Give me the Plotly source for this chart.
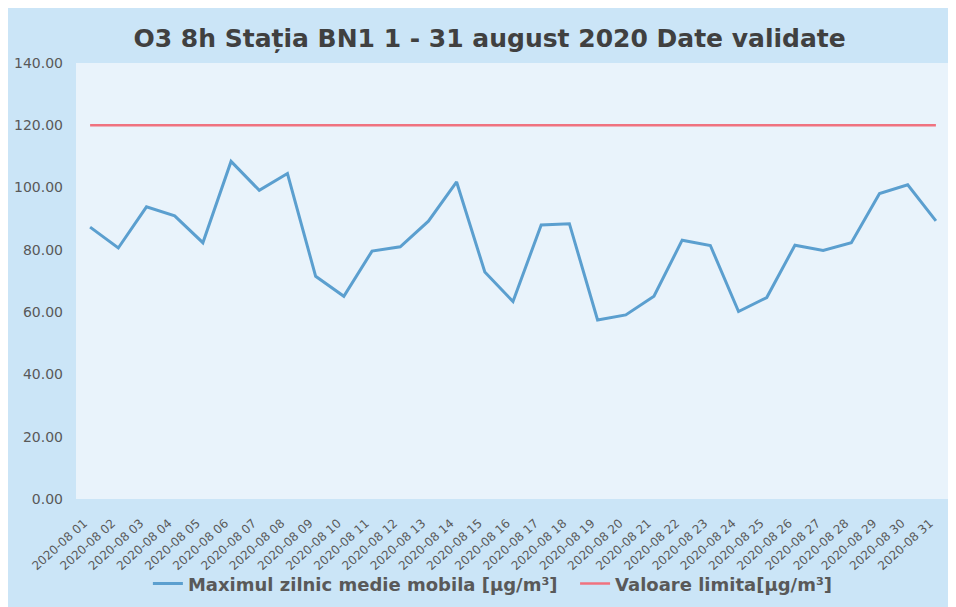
import plotly.graph_objects as go

# date labels and daily values
zile = ["2020-08 %02d" % d for d in range(1, 32)]
maxim_zilnic = [87.3, 80.6, 93.8, 90.9, 82.3, 108.4, 99.1, 104.5, 71.5, 65.1,
                79.6, 81.0, 89.2, 101.8, 72.9, 63.4, 88.0, 88.4, 57.5, 59.1,
                65.1, 83.1, 81.4, 60.2, 64.7, 81.5, 79.8, 82.3, 98.1, 100.9, 89.3]
valoare_limita = [120] * 31

fig = go.Figure()
fig.add_trace(go.Scatter(
    x=zile, y=maxim_zilnic, mode="lines",
    name="Maximul zilnic medie mobila [µg/m³]&nbsp;&nbsp;",
    line=dict(color="#5b9fcf", width=3)
))
fig.add_trace(go.Scatter(
    x=zile, y=valoare_limita, mode="lines",
    name="Valoare limita[µg/m³]",
    line=dict(color="#f0727f", width=2.5)
))

# page body adds 8px around the figure, so size is 948x599
fig.update_layout(
    width=948, height=599,
    margin=dict(l=68, r=6, t=55, b=107),
    paper_bgcolor="#cbe5f7",
    plot_bgcolor="#e9f3fb",
    font=dict(family="DejaVu Sans", color="#595959"),
    title=dict(text="<b>O3 8h Stația BN1 1 - 31 august 2020 Date validate</b>",
               x=0.508, xanchor="center", y=0.95, yanchor="middle",
               font=dict(size=25, color="#404040")),
    xaxis=dict(type="category", range=[-0.5, 30.5], tickangle=-42,
               showgrid=False, showline=False, ticks="",
               ticklabelstandoff=14, ticklabelshift=-6,
               tickfont=dict(size=12, color="#595959")),
    yaxis=dict(range=[0, 140], dtick=20, tickformat=".2f", showgrid=False,
               zeroline=False, ticks="", ticklabelstandoff=12,
               tickfont=dict(size=14, color="#595959")),
    legend=dict(orientation="h", x=0.477, xanchor="center", y=-0.192,
                yanchor="middle", bgcolor="rgba(0,0,0,0)",
                font=dict(size=18, color="#595959", weight="bold")),
    showlegend=True,
)

fig.write_html("out.html")
